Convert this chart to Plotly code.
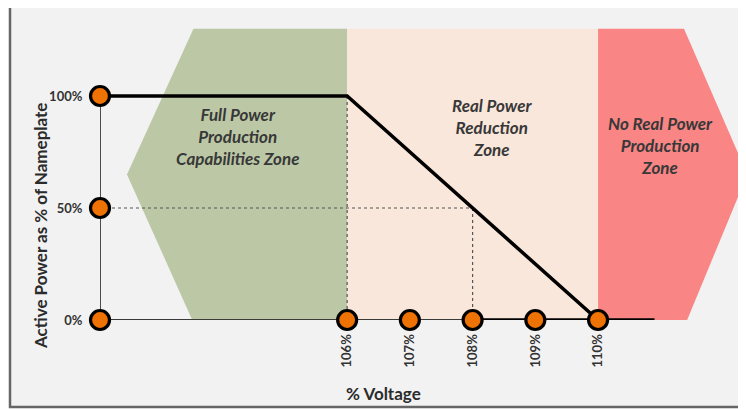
import plotly.graph_objects as go

# ---------------- data ----------------
voltage_ticks = [106, 107, 108, 109, 110]
voltage_labels = ["106%", "107%", "108%", "109%", "110%"]
power_ticks = [0, 50, 100]
power_labels = ["0%", "50%", "100%"]

axis_origin_v = 102.06          # voltage where the power axis sits
curve_v = [axis_origin_v, 106, 110]
curve_p = [100, 100, 0]
tail_v = [108, 110, 110.9]
tail_p = [0, 0, 0]

zone_bounds = [106, 110]        # full / reduction / none boundaries
zone_names = ["Full Power<br>Production<br>Capabilities Zone",
              "Real Power<br>Reduction<br>Zone",
              "No Real Power<br>Production<br>Zone"]
zone_label_v = [104.25, 108.31, 110.99]
zone_label_p = [82, 86, 78]
zone_colors = ["#bcc8a5", "#f9e7db", "#f98585"]

# ---------------- figure ----------------
# page body has an 8px margin, so the figure is offset by 8px on screen
OFF = 8
W, H = 746, 409
PL, PR, PT, PB = 100, 754, 20, 320        # plot area in screen px
L, T = PL - OFF, PT - OFF
R, B = W - (PR - OFF), H - (PB - OFF)
PW, PH = PR - PL, PB - PT
x_range = [axis_origin_v, 106 + (PR - 347) / 62.75]
y_range = [0, 133.93]
zone_top = 130
mid = zone_top / 2


def px(sx):
    return (sx - PL) / PW


def py(sy):
    return (PB - sy) / PH


FONT = "Lato"
fig = go.Figure()

shapes = []
# background panel with border
shapes.append(dict(type="rect", xref="paper", yref="paper",
                   x0=px(10), x1=px(770), y0=py(407), y1=py(5),
                   fillcolor="#f2f2f2", line=dict(color="#666666", width=2.5),
                   layer="below"))
# green chevron (points left)
g_right = zone_bounds[0]
shapes.append(dict(type="path", xref="x", yref="y", layer="below",
                   path=f"M {g_right},0 L {g_right - 2.47},0 L {g_right - 3.51},{mid} "
                        f"L {g_right - 2.45},{zone_top} L {g_right},{zone_top} Z",
                   fillcolor=zone_colors[0], line=dict(width=0)))
# reduction rectangle
shapes.append(dict(type="rect", xref="x", yref="y", layer="below",
                   x0=zone_bounds[0], x1=zone_bounds[1], y0=0, y1=zone_top,
                   fillcolor=zone_colors[1], line=dict(width=0)))
# red chevron (points right)
r_left = zone_bounds[1]
shapes.append(dict(type="path", xref="x", yref="y", layer="below",
                   path=f"M {r_left},0 L {r_left + 1.42},0 L {r_left + 2.38},{mid} "
                        f"L {r_left + 1.37},{zone_top} L {r_left},{zone_top} Z",
                   fillcolor=zone_colors[2], line=dict(width=0)))
fig.update_layout(shapes=shapes)

dot = dict(color="#555555", width=1.2, dash="dot")
# dotted guide lines
fig.add_trace(go.Scatter(x=[axis_origin_v, voltage_ticks[2]], y=[50, 50], mode="lines",
                         line=dot, hoverinfo="skip"))
fig.add_trace(go.Scatter(x=[voltage_ticks[2], voltage_ticks[2]], y=[50, 0], mode="lines",
                         line=dot, hoverinfo="skip"))
fig.add_trace(go.Scatter(x=[voltage_ticks[0], voltage_ticks[0]], y=[100, 0], mode="lines",
                         line=dot, hoverinfo="skip"))
# thin axes
fig.add_trace(go.Scatter(x=[axis_origin_v, axis_origin_v, voltage_ticks[2]], y=[100, 0, 0],
                         mode="lines", line=dict(color="#3a3a3a", width=1.8), hoverinfo="skip"))
# thick curve
fig.add_trace(go.Scatter(x=curve_v, y=curve_p, mode="lines",
                         line=dict(color="#000000", width=3.5), hoverinfo="skip"))
fig.add_trace(go.Scatter(x=tail_v, y=tail_p, mode="lines",
                         line=dict(color="#000000", width=3.5), hoverinfo="skip"))
# markers
mk = dict(size=19, color="#ef7204", line=dict(color="#000000", width=3.2))
fig.add_trace(go.Scatter(x=[axis_origin_v] * len(power_ticks), y=power_ticks, mode="markers",
                         marker=mk, cliponaxis=False, hoverinfo="skip"))
fig.add_trace(go.Scatter(x=voltage_ticks, y=[0] * len(voltage_ticks), mode="markers",
                         marker=mk, cliponaxis=False, hoverinfo="skip"))

annotations = []
for name, vx, vy in zip(zone_names, zone_label_v, zone_label_p):
    annotations.append(dict(x=vx, y=vy, xref="x", yref="y", text=name, showarrow=False,
                            font=dict(family=FONT, size=17, color="#383838",
                                      weight="bold", style="italic"),
                            align="center", xanchor="center", yanchor="middle"))
annotations.append(dict(x=px(40), y=py(226), xref="paper", yref="paper",
                        text="Active Power as % of Nameplate", textangle=-90, showarrow=False,
                        font=dict(family=FONT, size=17, color="#2b2b2b", weight="bold"),
                        xanchor="center", yanchor="middle"))
annotations.append(dict(x=px(383), y=py(393), xref="paper", yref="paper",
                        text="% Voltage", showarrow=False,
                        font=dict(family=FONT, size=17, color="#2b2b2b", weight="bold"),
                        xanchor="center", yanchor="middle"))

fig.update_layout(
    width=W, height=H,
    margin=dict(l=L, r=R, t=T, b=B),
    paper_bgcolor="#ffffff",
    plot_bgcolor="rgba(0,0,0,0)",
    showlegend=False,
    annotations=annotations,
    xaxis=dict(range=x_range, showgrid=False, zeroline=False, showline=False,
               tickvals=voltage_ticks, ticktext=voltage_labels, tickangle=-90,
               ticks="outside", ticklen=8, tickcolor="rgba(0,0,0,0)",
               tickfont=dict(family=FONT, size=13, color="#333333", weight="bold")),
    yaxis=dict(range=y_range, showgrid=False, zeroline=False, showline=False,
               tickvals=power_ticks, ticktext=power_labels,
               ticks="outside", ticklen=14, tickcolor="rgba(0,0,0,0)",
               tickfont=dict(family=FONT, size=13, color="#333333", weight="bold")),
)

fig.write_html("out.html")
